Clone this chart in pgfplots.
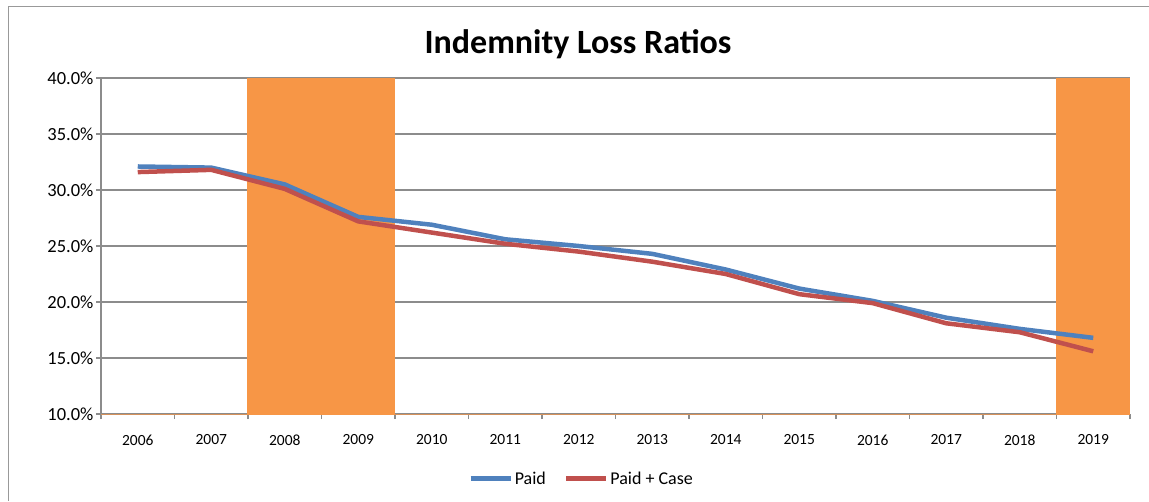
\documentclass[border=0pt]{standalone}
\usepackage{fontspec}
\setmainfont{Carlito}
\usepackage{pgfplots}
\pgfplotsset{compat=1.18}
\definecolor{paid}{HTML}{4F81BD}
\definecolor{paidcase}{HTML}{C0504D}
\definecolor{band}{HTML}{F79646}
\definecolor{gridgray}{HTML}{8C8C8C}
\begin{document}
\begin{tikzpicture}[x=1pt,y=1pt]
\path[use as bounding box] (0,0) rectangle (1149,-501);
\draw[gray!80, line width=1.5pt] (1149,-6.5) -- (8.5,-6.5) -- (8.5,-501);
\node[font=\bfseries\fontsize{34}{40}\selectfont] at (578,-44) {Indemnity Loss Ratios};
\begin{axis}[
  at={(101pt,-414pt)}, anchor=south west,
  scale only axis, width=1029pt, height=336pt,
  xmin=-0.5, xmax=13.5, ymin=10, ymax=40,
  axis x line*=bottom, axis y line*=left,
  axis line style={gridgray, line width=1.5pt, -},
  xtick={0,...,13},
  xticklabels={2006,2007,2008,2009,2010,2011,2012,2013,2014,2015,2016,2017,2018,2019},
  minor xtick={-0.5,0.5,...,13.5},
  major x tick style={draw=none},
  tick align=outside, major tick length=5pt, minor tick length=5pt,
  tick style={gridgray, line width=1.5pt},
  ytick={10,15,...,40}, ymajorgrids,
  grid style={gridgray, line width=1.5pt},
  yticklabel={\pgfmathprintnumber[fixed,fixed zerofill,precision=1,assume math mode=true]{\tick}\%},
  yticklabel style={font=\fontsize{18.5}{22}\selectfont, xshift=1pt},
  xticklabel style={font=\fontsize{15.5}{18}\selectfont, yshift=-12pt},
  legend style={at={(0.467,-0.192)}, anchor=center, draw=none, legend columns=2,
    font=\fontsize{18}{21}\selectfont,
    /tikz/every even column/.append style={column sep=16pt}},
  legend image code/.code={\draw[#1] (0pt,0pt) -- (40pt,0pt);},
]
\addplot[ybar, bar width=1, fill=band, draw=band, line width=1pt, forget plot] coordinates {
(0,10) (1,10) (2,40) (3,40) (4,10) (5,10) (6,10) (7,10) (8,10) (9,10) (10,10) (11,10) (12,10) (13,40)};
\addplot[paid, line width=4.5pt, line join=round, mark=none] coordinates {
(0,32.1) (1,32.0) (2,30.5) (3,27.6) (4,26.9) (5,25.6) (6,25.0) (7,24.3) (8,22.9) (9,21.2) (10,20.1) (11,18.6) (12,17.6) (13,16.8)};
\addlegendentry{Paid}
\addplot[paidcase, line width=4.5pt, line join=round, mark=none] coordinates {
(0,31.6) (1,31.8) (2,30.1) (3,27.2) (4,26.2) (5,25.2) (6,24.5) (7,23.6) (8,22.5) (9,20.7) (10,19.9) (11,18.1) (12,17.3) (13,15.6)};
\addlegendentry{Paid + Case}
\end{axis}
\end{tikzpicture}
\end{document}
